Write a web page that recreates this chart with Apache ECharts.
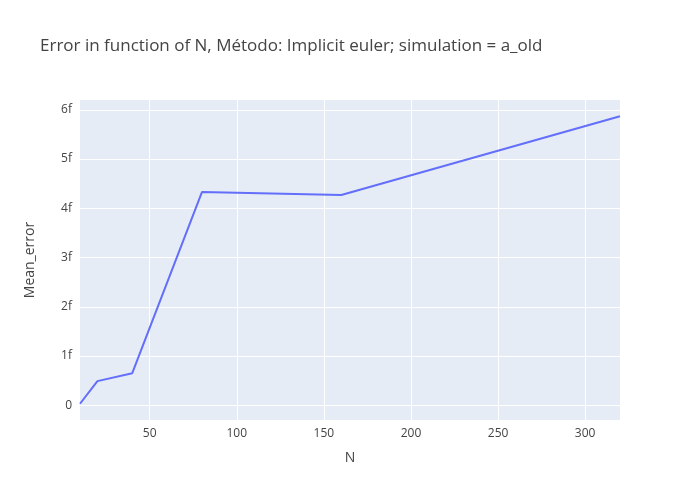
<!DOCTYPE html>
<html><head><meta charset="utf-8">
<script src="https://cdn.jsdelivr.net/npm/echarts@6/dist/echarts.min.js"></script>
<style>html,body{margin:0;padding:0;}#c{width:700px;height:500px;}</style>
</head><body><div id="c"></div>
<script>
const nValues = [10, 20, 40, 80, 160, 320];
const meanError = [0.03, 0.49, 0.65, 4.33, 4.27, 5.87]; // in femto (1e-15)
const xTicks = [50, 100, 150, 200, 250, 300];
const yTicks = [0, 1, 2, 3, 4, 5, 6];
const yLabel = v => v === 0 ? '0' : v + 'f';
const chart = echarts.init(document.getElementById('c'));
const font = '"Open Sans", Verdana, Arial, sans-serif';
chart.setOption({
  backgroundColor: '#fff',
  title: {text: 'Error in function of N, Método: Implicit euler; simulation = a_old', left: 35, top: 33,
    textStyle: {fontFamily: font, fontSize: 17, fontWeight: 'normal', color: '#444'}},
  grid: {left: 80, right: 80, top: 100, bottom: 80, show: true, backgroundColor: '#E5ECF6', borderWidth: 0},
  xAxis: {type: 'value', min: 10, max: 320, name: 'N', nameLocation: 'middle', nameGap: 31,
    nameTextStyle: {fontFamily: font, fontSize: 14, color: '#444'},
    axisLine: {show: false}, axisTick: {show: false, customValues: xTicks},
    axisLabel: {customValues: xTicks, fontFamily: font, fontSize: 12, color: '#444', margin: 8},
    splitLine: {show: true, lineStyle: {color: '#fff', width: 1}}},
  yAxis: {type: 'value', min: -0.3, max: 6.2, name: 'Mean_error', nameLocation: 'middle', nameGap: 43,
    nameTextStyle: {fontFamily: font, fontSize: 14, color: '#444'},
    axisLine: {show: false}, axisTick: {show: false, customValues: yTicks},
    axisLabel: {customValues: yTicks, formatter: yLabel, fontFamily: font, fontSize: 12, color: '#444', margin: 8},
    splitLine: {show: true, lineStyle: {color: '#fff', width: 1}}},
  series: [{type: 'line', data: nValues.map((n, i) => [n, meanError[i]]), showSymbol: false,
    lineStyle: {color: '#636EFA', width: 2}, itemStyle: {color: '#636EFA'}}]
});
</script></body></html>
